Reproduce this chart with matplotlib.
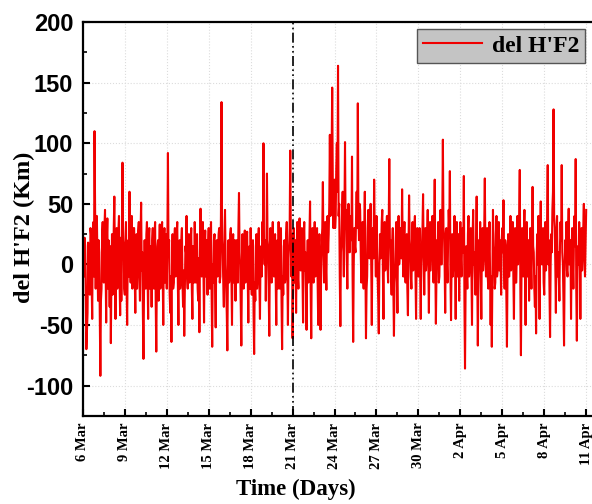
import numpy as np
import pandas as pd
import matplotlib
matplotlib.use("Agg")
import matplotlib.pyplot as plt
from matplotlib.ticker import MultipleLocator

plt.rcParams['axes.unicode_minus'] = False

# del H'F2 (km), hourly values, one row per day
week1 = [  # 6 - 12 Mar
    20, -5, -10, 22, 15, -30, -70, -55, -40, 18, 10, -12, -25, 30, 25, -15, -45, 28, 35, -10, 110, 40, -20, 25,
    40, 5, -30, 20, 10, -45, -92, -30, -20, 25, 35, -8, -15, 30, 45, -5, -48, 20, 38, -20, 20, 5, -35, 15,
    -65, -10, 25, -25, -20, 30, 56, 0, -45, 10, 30, -20, -10, 28, 40, -15, -42, 22, -30, 15, 84, 20, 15, -20,
    -25, 20, 35, -15, -50, 5, 20, -10, 60, 10, -15, 25, 40, -20, -5, 30, 30, -10, -40, 15, 25, -20, 0, 28,
    35, -10, -30, 25, 51, -5, 10, -40, -78, -20, 20, -15, -20, 25, 35, -5, -45, 22, 30, -20, 10, 15, -35, 20,
    30, -15, -20, 25, 35, -30, -72, -10, 15, 20, -30, 10, 33, -20, -5, 25, 35, -10, -50, 20, 30, -15, 5, 25,
    -20, 15, 92, 10, 20, -25, -40, -10, -64, 0, 25, -20, -15, 20, 30, -10, -5, 25, 35, -15, -50, 15, 20, -20,
]
week2 = [  # 13 - 19 Mar
    -10, 20, 30, -15, -35, -5, -59, -20, 15, 10, 40, -10, -20, 20, 25, -15, 0, 18, 30, -20, -45, 15, 10, -15,
    35, 0, -15, 20, 25, -20, -30, 5, -56, 10, 46, 0, -10, 25, 35, -5, -48, 15, 28, -10, 5, 20, -25, 15,
    30, -10, -20, 25, 35, -25, -68, 0, -15, 20, 25, -20, -52, 10, 20, -10, 5, 25, 30, -15, -10, 40, 134, 20,
    10, -15, -35, 20, 45, 5, -20, -40, -71, -5, 20, -15, -10, 25, 30, -10, -50, 15, 25, -15, 0, 20, -30, 10,
    20, -5, -15, 30, 59, 10, 0, -35, -67, -10, 25, -5, -20, 20, 28, -15, -5, 22, 27, -10, -48, 10, 15, -20,
    30, -10, -25, 15, 20, -40, -74, -15, -30, 15, 25, -20, -10, 20, 30, -15, -45, 10, 15, -10, 35, 20, 100, 10,
    0, 20, -30, 10, 75, 20, 15, -25, -59, 5, 30, -10, -15, 20, 35, -5, -10, 18, 25, -15, -50, 15, 20, -20,
]
week3 = [  # 20 - 26 Mar
    35, -5, -20, 20, 30, -30, -70, -10, -25, 15, 20, -15, -10, 25, 35, -10, -50, 5, 15, 30, 94, 20, -10, 25,
    -61, -10, 30, -15, 0, 20, -40, 10, 35, -10, -20, 25, 38, 0, -5, 25, 30, -10, -48, 20, 35, -5, 10, -20,
    -54, 0, 20, -15, -10, 25, 52, -20, -61, 5, 30, -10, -15, 22, 35, -10, -5, 25, 30, -15, -50, 15, 25, -20,
    -54, -5, 20, 30, 68, 10, -15, 20, 35, 0, -21, 30, 40, 10, 25, 50, 107, 40, 60, 90, 146, 70, 30, 60,
    70, 30, 40, 80, 100, 60, 164, 40, 50, -10, -51, 10, 20, 45, 60, 15, -10, 40, 101, 30, 45, 5, -20, 30,
    50, 20, 10, 35, 40, 20, 89, -10, -64, 0, 30, 15, 10, 40, 60, 30, 133, 40, 20, 50, 45, 10, -15, 25,
    35, 0, -20, 30, 60, 0, -61, -20, -10, 30, 45, 10, 5, 35, 50, 0, -50, 20, 30, 5, 70, 25, 15, -10,
]
week4 = [  # 27 Mar - 2 Apr
    40, 10, -10, -30, -57, 0, 25, 5, 10, 35, 45, -5, -45, 25, 35, -5, 0, 30, 40, 0, -15, 30, 87, 20,
    20, -5, -25, 15, 30, -20, -59, -15, -5, 20, 35, -10, -40, 25, 40, 0, 10, 25, 30, 5, 62, 15, -10, 20,
    35, 0, -15, 15, 25, -20, -42, 15, 57, 20, 10, -10, -20, 20, 35, -5, 0, 30, 40, -10, -45, 10, 30, -5,
    -10, 15, 30, -10, -45, 0, 15, 30, 58, 5, -25, 10, 30, -5, 5, 25, 45, 0, -40, 20, 35, -5, 10, 25,
    40, 5, -15, 30, 70, 0, -49, -10, 20, 5, 35, -15, -10, 25, 45, 0, 0, 40, 103, 30, 25, 0, -40, 20,
    30, 0, -15, 20, 45, 30, 77, -10, -46, 5, 25, -10, 0, 20, 40, -5, -45, 15, 35, -10, 10, 25, -30, 10,
    35, 5, -10, 20, 30, 10, 73, -30, -86, -20, 15, -5, -20, 25, 40, -10, 0, 20, 30, -5, -50, 20, 45, 0,
]
week5 = [  # 3 - 9 Apr
    10, -10, -25, 20, 56, -10, -67, -15, 20, 0, 35, -10, -45, 20, 30, -5, 5, 30, 71, 10, -10, 15, 30, -10,
    -20, 10, 35, -5, -50, -10, -68, -10, 45, 15, 10, -20, -15, 25, 40, -10, -5, 20, 35, -5, 20, 5, -25, 20,
    30, 10, 53, 0, -20, 20, 15, -30, -68, -5, 25, -10, -10, 20, 40, -5, 0, 25, 35, -10, -45, 15, 30, -15,
    -15, 15, 40, 0, 20, 40, 78, -20, -75, -5, 30, 0, -10, 25, 45, -5, -50, 20, 35, -10, 10, 20, -30, 10,
    30, 0, -20, 25, 64, 15, 10, -20, -35, -10, -57, 5, 25, 0, 40, 10, -45, 20, 52, 5, 0, 20, 30, -15,
    -25, 10, 35, -5, 10, 40, 82, 0, 20, -20, -60, 0, 25, 10, 45, 60, 128, 40, 30, 0, -40, 20, 40, -10,
    10, -10, -30, 15, 35, 20, 82, 10, 0, -30, -67, -5, 20, 5, 35, -5, -10, 25, 46, 0, 15, 20, -45, 10,
]
week6 = [  # 10 - 11 Apr
    30, 0, -20, 20, 40, 15, 87, -20, -63, -5, 15, 0, 35, 10, -45, 15, 30, -5, 10, 30, 50, 5, -10, 20,
    45,
]

tick_labels = ['6 Mar', '9 Mar', '12 Mar', '15 Mar', '18 Mar', '21 Mar', '24 Mar',
               '27 Mar', '30 Mar', '2 Apr', '5 Apr', '8 Apr', '11 Apr']

values = week1 + week2 + week3 + week4 + week5 + week6
times = pd.date_range('2013-03-06', periods=len(values), freq='1h')
tick_dates = pd.date_range('2013-03-06', '2013-04-11', freq='3D')
event_day = pd.Timestamp('2013-03-21')

fig = plt.figure(figsize=(5.92, 5.04), dpi=100)
ax = fig.add_axes([0.140, 0.175, 0.860, 0.781])

ax.plot(times, values, color='#f00000', lw=1.5, label="del H'F2")
ax.axvline(event_day, color='black', lw=1.2, ls=(0, (6, 2, 1, 2, 1, 2)))

ax.set_xlim(pd.Timestamp('2013-03-06'), pd.Timestamp('2013-04-11 10:00'))
ax.set_ylim(-125, 200)

ax.set_xticks(tick_dates)
ax.set_xticklabels(tick_labels, rotation=90, fontsize=10.5, fontweight='bold',
                   family='Liberation Serif')
ax.set_xticks(tick_dates[:-1] + pd.Timedelta(hours=36), minor=True)

ax.yaxis.set_major_locator(MultipleLocator(50))
ax.yaxis.set_minor_locator(MultipleLocator(25))
for lab in ax.get_yticklabels():
    lab.set_fontweight('bold')
    lab.set_family('Liberation Sans')
    lab.set_fontsize(17)

ax.tick_params(which='major', direction='in', length=5, width=1.5)
ax.tick_params(which='minor', direction='in', length=3, width=1.2)
ax.tick_params(axis='x', pad=5)
ax.tick_params(axis='y', pad=7)

for side in ['left', 'bottom', 'top']:
    ax.spines[side].set_linewidth(1.6)
ax.spines['right'].set_visible(False)

ax.grid(True, which='major', color='#dcdcdc', ls=':', lw=0.8)

ax.set_xlabel('Time (Days)', fontsize=16.5, fontweight='bold', family='Liberation Serif')
ax.xaxis.set_label_coords(0.418, -0.16)
ax.set_ylabel("del H'F2 (Km)", fontsize=17.5, fontweight='bold', family='Liberation Serif')
ax.yaxis.set_label_coords(-0.094, 0.48)

leg = ax.legend(loc='upper right', prop={'family': 'Liberation Serif', 'weight': 'bold', 'size': 17},
                frameon=True, fancybox=False, borderaxespad=0.3, handlelength=2.5,
                handletextpad=0.4, borderpad=0.25)
leg.get_frame().set_facecolor('#c4c4c4')
leg.get_frame().set_edgecolor('#555555')
leg.get_frame().set_alpha(1)
leg.get_frame().set_linewidth(1.0)

fig.savefig('out.png', dpi=100)
